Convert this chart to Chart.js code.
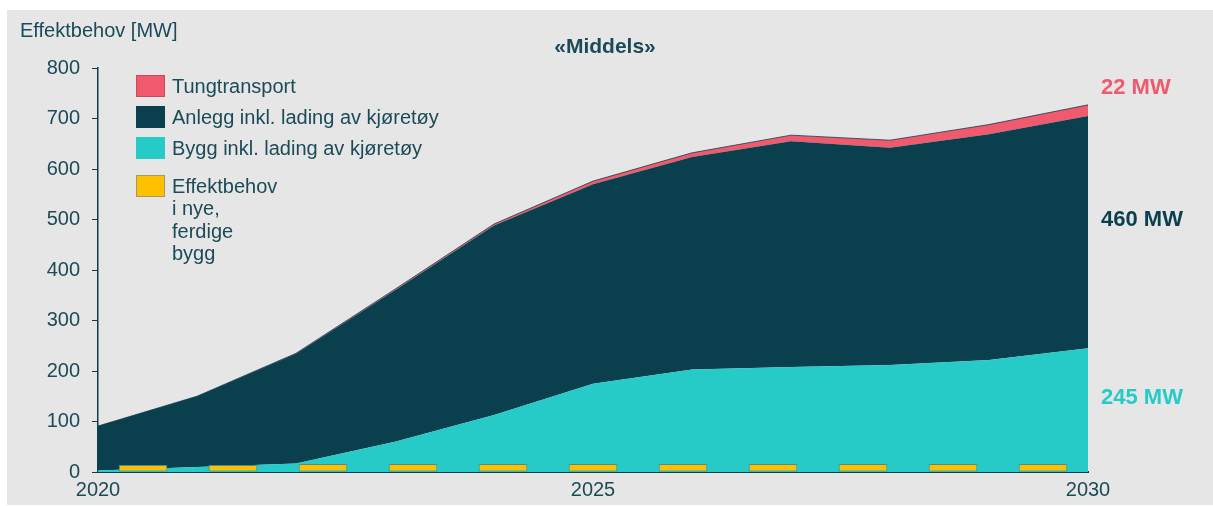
<!DOCTYPE html>
<html>
<head>
<meta charset="utf-8">
<script src="https://cdn.jsdelivr.net/npm/chart.js@4"></script>
<style>
  html, body { margin: 0; padding: 0; background: #ffffff; }
  #wrap { width: 1213px; height: 506px; }
</style>
</head>
<body>
<div id="wrap"><canvas id="effektChart"></canvas></div>
<script>
// Data (MW)
const years = ['2020', '2021', '2022', '2023', '2024', '2025', '2026', '2027', '2028', '2029', '2030'];
const bygg = [3, 10, 17, 60, 113, 175, 203, 208, 212, 222, 245];
const anlegg = [88, 140, 217, 300, 375, 395, 421, 447, 430, 447, 460];
const tungtransport = [0, 0, 1, 2, 3, 6, 8, 12, 15, 19, 22];
const nyeBygg = [14, 14, 16, 16, 16, 16, 16, 16, 16, 16, 16];
const shownYears = ['2020', '2025', '2030'];
const endLabels = ['22 MW', '460 MW', '245 MW'];

const TEXT = '#1b4a59';
const PINK = '#ef5a6e';
const DARK = '#0a3f4d';
const TEAL = '#26cbc7';
const YELLOW = '#ffc000';
const FONT = '"Liberation Sans", Arial, sans-serif';

function init() {
  // background, title, legend and end labels
  const decor = {
    id: 'decor',
    beforeDraw(chart) {
      const ctx = chart.ctx;
      ctx.save();
      ctx.fillStyle = '#ffffff';
      ctx.fillRect(0, 0, chart.width, chart.height);
      ctx.fillStyle = '#e6e6e6';
      ctx.fillRect(7, 10, chart.width - 7, 495);
      ctx.restore();
    },
    afterDraw(chart) {
      const ctx = chart.ctx;
      ctx.save();
      ctx.textBaseline = 'middle';
      ctx.textAlign = 'left';

      ctx.fillStyle = TEXT;
      ctx.font = '20px ' + FONT;
      ctx.fillText('Effektbehov [MW]', 20, 31);

      ctx.textAlign = 'center';
      ctx.font = 'bold 21px ' + FONT;
      ctx.fillText('«Middels»', 605, 47);

      // legend
      const items = [
        { text: ['Tungtransport'], fill: PINK, stroke: '#c94a5c', y: 75 },
        { text: ['Anlegg inkl. lading av kjøretøy'], fill: DARK, stroke: DARK, y: 106 },
        { text: ['Bygg inkl. lading av kjøretøy'], fill: TEAL, stroke: TEAL, y: 137 },
        { text: ['Effektbehov', 'i nye,', 'ferdige', 'bygg'], fill: YELLOW, stroke: '#a89a5a', y: 175 },
      ];
      ctx.textAlign = 'left';
      ctx.font = '20px ' + FONT;
      items.forEach(it => {
        ctx.fillStyle = it.fill;
        ctx.fillRect(136, it.y, 29, 22);
        ctx.strokeStyle = it.stroke;
        ctx.lineWidth = 1;
        ctx.strokeRect(136.5, it.y + 0.5, 28, 21);
        ctx.fillStyle = TEXT;
        it.text.forEach((line, i) => ctx.fillText(line, 172, it.y + 12 + i * 22.5));
      });

      // end labels
      ctx.font = 'bold 22px ' + FONT;
      ctx.fillStyle = PINK;
      ctx.fillText(endLabels[0], 1101, 88);
      ctx.fillStyle = DARK;
      ctx.fillText(endLabels[1], 1101, 220);
      ctx.fillStyle = TEAL;
      ctx.fillText(endLabels[2], 1101, 398);
      ctx.restore();
    }
  };

  const ctx = document.getElementById('effektChart').getContext('2d');
  new Chart(ctx, {
    data: {
      labels: years,
      datasets: [
        {
          type: 'line',
          label: 'Bygg inkl. lading av kjøretøy',
          data: bygg,
          backgroundColor: TEAL,
          borderColor: TEAL,
          borderWidth: 0,
          pointRadius: 0,
          fill: 'origin',
          order: 1,
        },
        {
          type: 'line',
          label: 'Anlegg inkl. lading av kjøretøy',
          data: anlegg,
          backgroundColor: DARK,
          borderColor: DARK,
          borderWidth: 0,
          pointRadius: 0,
          fill: '-1',
          order: 1,
        },
        {
          type: 'line',
          label: 'Tungtransport',
          data: tungtransport,
          backgroundColor: PINK,
          borderColor: 'rgba(20, 63, 77, 0.8)',
          borderWidth: 1,
          pointRadius: 0,
          fill: '-1',
          order: 1,
        },
        {
          type: 'bar',
          label: 'Effektbehov i nye, ferdige bygg',
          data: nyeBygg,
          xAxisID: 'xb',
          grouped: false,
          backgroundColor: YELLOW,
          borderColor: '#4f8a8c',
          borderWidth: 1,
          borderSkipped: false,
          categoryPercentage: 1,
          barPercentage: 0.54,
          order: 0,
        },
      ],
    },
    options: {
      responsive: true,
      maintainAspectRatio: false,
      animation: false,
      layout: { padding: { left: 0, top: 68, right: 125, bottom: 0 } },
      plugins: {
        legend: { display: false },
        tooltip: { enabled: false },
      },
      scales: {
        x: {
          type: 'category',
          offset: false,
          grid: { display: false, drawTicks: false },
          border: { display: true, color: DARK, width: 2 },
          ticks: {
            autoSkip: false,
            maxRotation: 0,
            padding: 6,
            color: TEXT,
            font: { size: 20, family: FONT },
            callback: function (v) {
              const lab = this.getLabelForValue(v);
              return shownYears.includes(lab) ? lab : '';
            },
          },
          afterFit: s => { s.height = 34; },
        },
        xb: {
          type: 'category',
          offset: true,
          display: false,
        },
        y: {
          stacked: true,
          min: 0,
          max: 800,
          grid: { drawOnChartArea: false, drawTicks: true, tickLength: 6, color: DARK },
          border: { display: true, color: DARK, width: 1.5 },
          ticks: {
            stepSize: 100,
            padding: 12,
            color: TEXT,
            font: { size: 20, family: FONT },
          },
          afterFit: s => { s.width = 98; },
        },
      },
    },
    plugins: [decor],
  });
}

init();
</script>
</body>
</html>
